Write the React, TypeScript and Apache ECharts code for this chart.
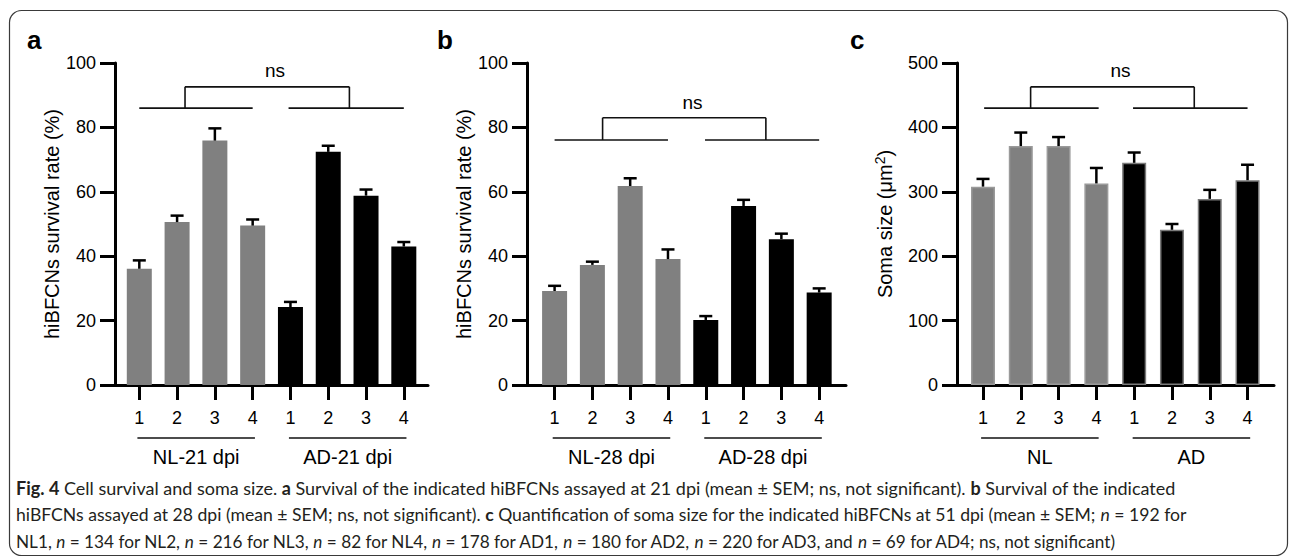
import React, { useEffect, useRef } from "react";
import * as echarts from "echarts";

const FONT = "'Liberation Sans', Arial, Helvetica, sans-serif";
const CAPTION_FONT = "Lato, 'Liberation Sans', sans-serif";

// ---- data ----
const barPositions = [1, 2, 3, 4, 5, 6, 7, 8];
const tickLabels = ["1", "2", "3", "4", "1", "2", "3", "4"];
const cellGroup = ["NL", "NL", "NL", "NL", "AD", "AD", "AD", "AD"];

const survival21Mean = [36.1, 50.6, 75.9, 49.5, 24.2, 72.4, 58.8, 43.0];
const survival21Sem = [2.6, 2.0, 3.8, 1.9, 1.6, 1.9, 1.9, 1.4];
const survival28Mean = [29.2, 37.3, 61.8, 39.1, 20.2, 55.6, 45.3, 28.7];
const survival28Sem = [1.6, 1.0, 2.4, 3.0, 1.2, 1.9, 1.7, 1.3];
const somaMean = [308, 371, 371, 313, 345, 241, 289, 318];
const somaSem = [12, 21, 14, 24, 16, 9, 14, 24];

const groupLabelsA = ["NL-21 dpi", "AD-21 dpi"];
const groupLabelsB = ["NL-28 dpi", "AD-28 dpi"];
const groupLabelsC = ["NL", "AD"];
const groupSpans = [
  [0.95, 4.06],
  [4.96, 8.07],
];

const sigLabel = "ns";
// bracket: [groupLine level, bracket top level, label level]
const bracketLevelsA = [86, 92.6, 97.7];
const bracketLevelsB = [76.1, 83, 87.7];
const bracketLevelsC = [430, 463, 488];
// bracket legs x and label x
const bracketLegsA = [2.21, 6.56, 4.59];
const bracketLegsB = [2.27, 6.59, 4.65];
const bracketLegsC = [2.26, 6.59, 4.64];
const bracketLinesA = [[1, 4], [4.95, 8]];
const bracketLinesB = [[1, 4], [4.98, 8]];
const bracketLinesC = [[1.03, 4.06], [4.97, 8]];

const yTitles = ["hiBFCNs survival rate (%)", "hiBFCNs survival rate (%)", "Soma size (μm{sup|2})"];

const captionLines = [
  "{b|Fig. 4} Cell survival and soma size. {b|a} Survival of the indicated hiBFCNs assayed at 21 dpi (mean ± SEM; ns, not significant). {b|b} Survival of the indicated",
  "hiBFCNs assayed at 28 dpi (mean ± SEM; ns, not significant). {b|c} Quantification of soma size for the indicated hiBFCNs at 51 dpi (mean ± SEM; {i|n} = 192 for",
  "NL1, {i|n} = 134 for NL2, {i|n} = 216 for NL3, {i|n} = 82 for NL4, {i|n} = 178 for AD1, {i|n} = 180 for AD2, {i|n} = 220 for AD3, and {i|n} = 69 for AD4; ns, not significant)",
];

const GRAY = "#808080";
const BLACK = "#000000";

const panels = [
  {
    letter: "a", letterX: 27, left: 115, width: 313, xMin: 0.357, xMax: 8.64, yMax: 100, interval: 20,
    nameGap: 52, mean: survival21Mean, sem: survival21Sem, groups: groupLabelsA,
    levels: bracketLevelsA, legs: bracketLegsA, lines: bracketLinesA, barWidth: 25, border: false,
  },
  {
    letter: "b", letterX: 437, left: 527, width: 319, xMin: 0.27, xMax: 8.71, yMax: 100, interval: 20,
    nameGap: 51, mean: survival28Mean, sem: survival28Sem, groups: groupLabelsB,
    levels: bracketLevelsB, legs: bracketLegsB, lines: bracketLinesB, barWidth: 25, border: false,
  },
  {
    letter: "c", letterX: 850, left: 957, width: 317, xMin: 0.312, xMax: 8.70, yMax: 500, interval: 100,
    nameGap: 60, mean: somaMean, sem: somaSem, groups: groupLabelsC,
    levels: bracketLevelsC, legs: bracketLegsC, lines: bracketLinesC, barWidth: 24, border: true,
  },
];

function buildOption() {
  const grid: any[] = [];
  const xAxis: any[] = [];
  const yAxis: any[] = [];
  const series: any[] = [];

  panels.forEach((p, i) => {
    grid.push({ left: p.left, top: 63, width: p.width, height: 322 });
    xAxis.push({
      type: "value",
      gridIndex: i,
      min: p.xMin,
      max: p.xMax,
      splitLine: { show: false },
      axisLine: { show: true, onZero: false, lineStyle: { color: "#000", width: 3 } },
      axisTick: { show: true, customValues: barPositions, length: 15, lineStyle: { color: "#000", width: 3 } },
      axisLabel: {
        show: true,
        customValues: barPositions,
        formatter: (v: number) => tickLabels[Math.round(v) - 1] ?? "",
        fontSize: 18,
        fontFamily: FONT,
        color: "#000",
        margin: 24,
      },
    });
    yAxis.push({
      type: "value",
      gridIndex: i,
      min: 0,
      max: p.yMax,
      interval: p.interval,
      splitLine: { show: false },
      axisLine: { show: true, onZero: false, lineStyle: { color: "#000", width: 3 } },
      axisTick: { show: true, length: 15, lineStyle: { color: "#000", width: 3 } },
      axisLabel: { fontSize: 18, fontFamily: FONT, color: "#000", margin: 19 },
      name: yTitles[i],
      nameLocation: "middle",
      nameGap: p.nameGap,
      nameTextStyle: {
        fontSize: 20,
        fontFamily: FONT,
        color: "#000",
        rich: {
          sup: { fontSize: 14, fontFamily: FONT, color: "#000", padding: [0, 0, 10, 0] },
        },
      },
    });

    // bars
    series.push({
      type: "bar",
      xAxisIndex: i,
      yAxisIndex: i,
      barWidth: p.barWidth,
      z: 2,
      data: barPositions.map((x, k) => ({
        value: [x, p.mean[k]],
        itemStyle: {
          color: cellGroup[k] === "NL" ? GRAY : BLACK,
          borderColor: p.border ? (cellGroup[k] === "NL" ? "#9a9a9a" : "#7a7a7a") : "transparent",
          borderWidth: p.border ? 1.5 : 0,
        },
      })),
    });

    // error bars (upper whisker only)
    series.push({
      type: "custom",
      xAxisIndex: i,
      yAxisIndex: i,
      z: 3,
      data: barPositions.map((x, k) => [x, p.mean[k], p.mean[k] + p.sem[k]]),
      renderItem: (params: any, api: any) => {
        const lo = api.coord([api.value(0), api.value(1)]);
        const hi = api.coord([api.value(0), api.value(2)]);
        return {
          type: "group",
          children: [
            { type: "line", shape: { x1: lo[0], y1: lo[1], x2: hi[0], y2: hi[1] }, style: { stroke: "#000", lineWidth: 2.5 } },
            { type: "line", shape: { x1: hi[0] - 6.5, y1: hi[1], x2: hi[0] + 6.5, y2: hi[1] }, style: { stroke: "#000", lineWidth: 2.5 } },
          ],
        };
      },
    });

    // significance bracket
    const [base, top, labelY] = p.levels;
    const [legL, legR, labelX] = p.legs;
    const segs = [
      [p.lines[0][0], base, p.lines[0][1], base],
      [p.lines[1][0], base, p.lines[1][1], base],
      [legL, base, legL, top],
      [legL, top, legR, top],
      [legR, top, legR, base],
    ];
    series.push({
      type: "custom",
      xAxisIndex: i,
      yAxisIndex: i,
      z: 4,
      data: segs,
      renderItem: (params: any, api: any) => {
        const a = api.coord([api.value(0), api.value(1)]);
        const b = api.coord([api.value(2), api.value(3)]);
        return { type: "line", shape: { x1: a[0], y1: a[1], x2: b[0], y2: b[1] }, style: { stroke: "#111", lineWidth: 1.6 } };
      },
    });
    series.push({
      type: "custom",
      xAxisIndex: i,
      yAxisIndex: i,
      z: 4,
      data: [[labelX, labelY]],
      renderItem: (params: any, api: any) => {
        const c = api.coord([api.value(0), api.value(1)]);
        return {
          type: "text",
          x: c[0],
          y: c[1],
          style: { text: sigLabel, fontSize: 19, fontFamily: FONT, fill: "#000", align: "center", verticalAlign: "middle" },
        };
      },
    });

    // group underlines and labels beneath the x axis
    series.push({
      type: "custom",
      xAxisIndex: i,
      yAxisIndex: i,
      z: 4,
      clip: false,
      data: groupSpans.map((s, g) => [s[0], s[1], g]),
      renderItem: (params: any, api: any) => {
        const a = api.coord([api.value(0), 0]);
        const b = api.coord([api.value(1), 0]);
        const label = p.groups[api.value(2)];
        return {
          type: "group",
          children: [
            { type: "line", shape: { x1: a[0], y1: a[1] + 53, x2: b[0], y2: a[1] + 53 }, style: { stroke: "#111", lineWidth: 1.3 } },
            {
              type: "text",
              x: (a[0] + b[0]) / 2,
              y: a[1] + 72,
              style: { text: label, fontSize: 20, fontFamily: FONT, fill: "#000", align: "center", verticalAlign: "middle" },
            },
          ],
        };
      },
    });
  });

  const graphic: any[] = [
    {
      type: "rect",
      silent: true,
      shape: { x: 9.5, y: 10.5, width: 1278, height: 545, r: 12 },
      style: { fill: "none", stroke: "#3a3a3a", lineWidth: 1.2 },
    },
  ];
  panels.forEach((p) => {
    graphic.push({
      type: "text",
      x: p.letterX,
      y: 40,
      style: { text: p.letter, fontSize: 26, fontWeight: "bold", fontFamily: FONT, fill: "#000", verticalAlign: "middle" },
    });
  });
  const captionY = [488, 514.5, 541];
  const captionSize = [18, 17.6, 17.2];
  captionLines.forEach((line, k) => {
    const fs = captionSize[k];
    graphic.push({
      type: "text",
      x: 16,
      y: captionY[k],
      style: {
        text: line,
        fontSize: fs,
        fontFamily: CAPTION_FONT,
        fill: "#231f20",
        verticalAlign: "middle",
        rich: {
          b: { fontSize: fs, fontFamily: CAPTION_FONT, fontWeight: "bold", fill: "#231f20" },
          i: { fontSize: fs, fontFamily: CAPTION_FONT, fontStyle: "italic", fill: "#231f20" },
        },
      },
    });
  });

  return { animation: false, backgroundColor: "#fff", grid, xAxis, yAxis, series, graphic };
}

export default function App() {
  const ref = useRef<HTMLDivElement>(null);
  useEffect(() => {
    if (!ref.current) return;
    const chart = echarts.init(ref.current, null, { renderer: "svg" });
    chart.setOption(buildOption());
    return () => chart.dispose();
  }, []);
  return (
    <div
      ref={ref}
      style={{ position: "absolute", left: 0, top: 0, width: 1290, height: 559, background: "#fff" }}
    />
  );
}
